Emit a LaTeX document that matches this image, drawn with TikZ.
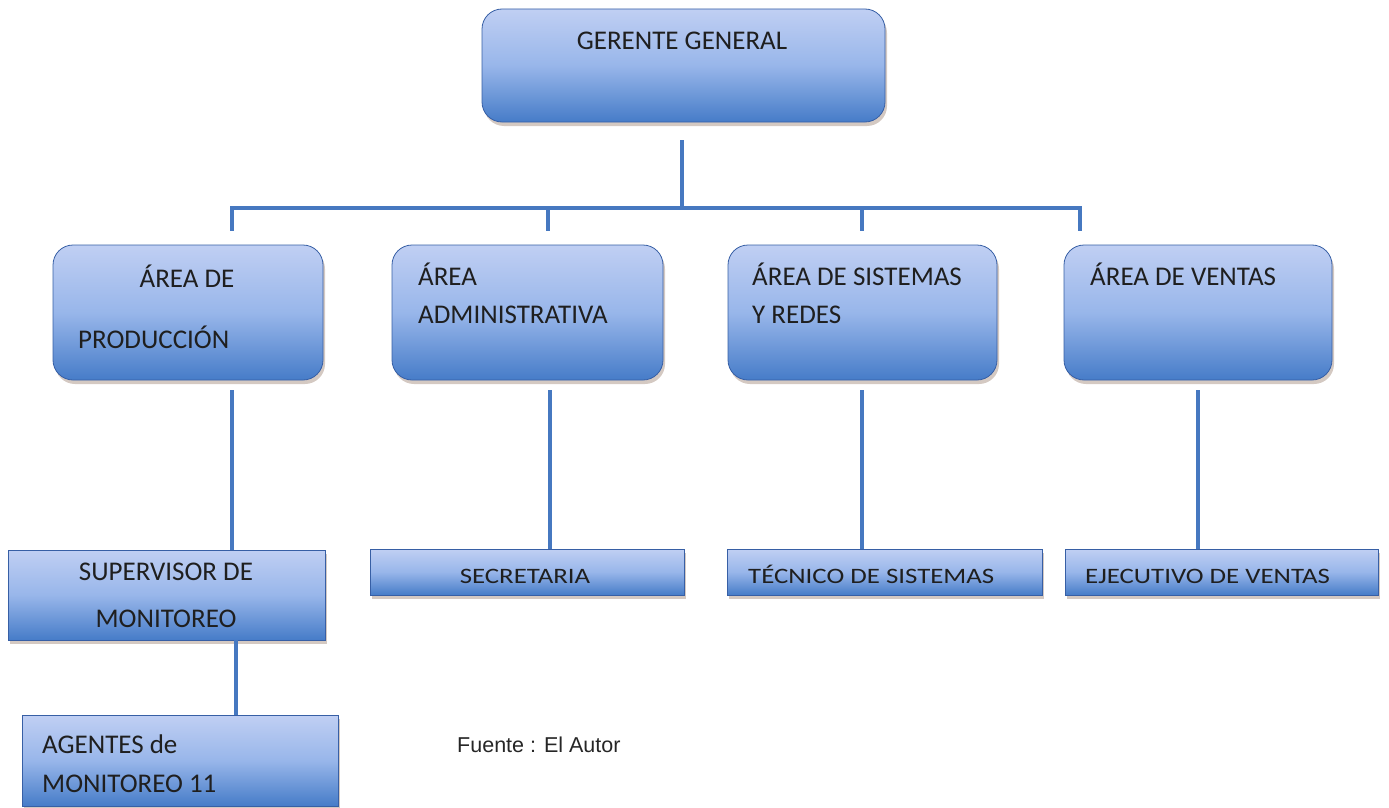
\documentclass[tikz,border=0pt]{standalone}
\usepackage{fontspec}
\setmainfont{Carlito}
\newfontfamily\lsans{Liberation Sans}
\newfontfamily\widefont[FakeStretch=1.22]{Carlito}
\usetikzlibrary{shadows}
\definecolor{boxtop}{RGB}{192,207,243}
\definecolor{boxmid}{RGB}{152,182,234}
\definecolor{boxbot}{RGB}{70,124,200}
\definecolor{boxedge}{RGB}{55,95,165}
\definecolor{linecol}{RGB}{70,120,192}
\definecolor{shadowcol}{RGB}{160,135,120}
\tikzset{
  orgbox/.style={draw=boxedge, line width=0.8pt, top color=boxtop, bottom color=boxbot, middle color=boxmid, inner sep=0pt,
    drop shadow={shadow xshift=2pt, shadow yshift=-4pt, fill=shadowcol, opacity=0.45}},
  roundbox/.style={orgbox, rounded corners=20pt},
  conn/.style={draw=linecol, line width=3.5pt},
  bigtxt/.style={font=\fontsize{27}{32}\selectfont, inner sep=0pt, text=black!88},
  smalltxt/.style={font=\widefont\fontsize{22}{26}\selectfont, inner sep=0pt, text=black!88},
  srctxt/.style={font=\lsans\fontsize{21.5}{26}\selectfont, inner sep=0pt, text=black!85},
}
\begin{document}
\begin{tikzpicture}[x=1pt,y=-1pt]
\useasboundingbox (0,0) rectangle (1389,808);
% boxes
\node[roundbox, minimum width=403pt, minimum height=113pt] (gg) at (683.5,65.5) {};
\node[roundbox, minimum width=270pt, minimum height=135pt] (a1) at (188,312.5) {};
\node[roundbox, minimum width=271pt, minimum height=135pt] (a2) at (527.5,312.5) {};
\node[roundbox, minimum width=269pt, minimum height=135pt] (a3) at (862.5,312.5) {};
\node[roundbox, minimum width=268pt, minimum height=135pt] (a4) at (1198,312.5) {};
\node[orgbox, minimum width=317pt, minimum height=90pt] (sup) at (166.5,595) {};
\node[orgbox, minimum width=316pt, minimum height=91pt] (agt) at (180,760.5) {};
\node[orgbox, minimum width=314pt, minimum height=46pt] (sec) at (527,572) {};
\node[orgbox, minimum width=315pt, minimum height=46pt] (tec) at (884.5,572) {};
\node[orgbox, minimum width=313pt, minimum height=46pt] (eje) at (1221.5,572) {};
% texts
\node[bigtxt, anchor=base] (tgg) at (682,50) {GERENTE GENERAL};
\node[bigtxt, anchor=base] (ta1a) at (187,287) {ÁREA DE};
\node[bigtxt, anchor=base west] (ta1b) at (78,348) {PRODUCCIÓN};
\node[bigtxt, anchor=base west] (ta2a) at (418,285) {ÁREA};
\node[bigtxt, anchor=base west] (ta2b) at (418,323) {ADMINISTRATIVA};
\node[bigtxt, anchor=base west] (ta3a) at (752,285) {ÁREA DE SISTEMAS};
\node[bigtxt, anchor=base west] (ta3b) at (752,323) {Y REDES};
\node[bigtxt, anchor=base west] (ta4a) at (1090,285) {ÁREA DE VENTAS};
\node[bigtxt, anchor=base] (tsupa) at (166,580) {SUPERVISOR DE};
\node[bigtxt, anchor=base] (tsupb) at (166,627) {MONITOREO};
\node[bigtxt, anchor=base west] (tagta) at (42,753) {AGENTES de};
\node[bigtxt, anchor=base west] (tagtb) at (42,792) {MONITOREO 11};
\node[smalltxt, anchor=base] (tsec) at (525,583) {SECRETARIA};
\node[smalltxt, anchor=base west] (ttec) at (748,583) {TÉCNICO DE SISTEMAS};
\node[smalltxt, anchor=base west] (teje) at (1085,583) {EJECUTIVO DE VENTAS};
\node[srctxt, anchor=base west] (src) at (457,752) {Fuente : El Autor};
% connector coordinates
\coordinate (ggdrop) at (682,140);
\coordinate (busT) at (682,208);
\coordinate (busL) at (232,208);
\coordinate (busR) at (1080,208);
\coordinate (bus2) at (548,208);
\coordinate (bus3) at (862,208);
\coordinate (tk1) at (232,231);
\coordinate (tk2) at (548,231);
\coordinate (tk3) at (862,231);
\coordinate (tk4) at (1080,231);
\coordinate (d1) at (232,390);
\coordinate (d2) at (550,390);
\coordinate (d3) at (862,390);
\coordinate (d4) at (1198,390);
% connectors
\draw[conn] (ggdrop) -- (busT);
\draw[conn, line cap=butt] ([xshift=-1.75pt]busL) -- ([xshift=1.75pt]busR);
\draw[conn] ([yshift=1.75pt]busL) -- (tk1);
\draw[conn] (bus2) -- (tk2);
\draw[conn] (bus3) -- (tk3);
\draw[conn] ([yshift=1.75pt]busR) -- (tk4);
\draw[conn] (d1) -- (d1 |- sup.north);
\draw[conn] (d2) -- (d2 |- sec.north);
\draw[conn] (d3) -- (d3 |- tec.north);
\draw[conn] (d4) -- (d4 |- eje.north);
\draw[conn] (sup.south -| 236,0) -- (agt.north -| 236,0);
\end{tikzpicture}
\end{document}
